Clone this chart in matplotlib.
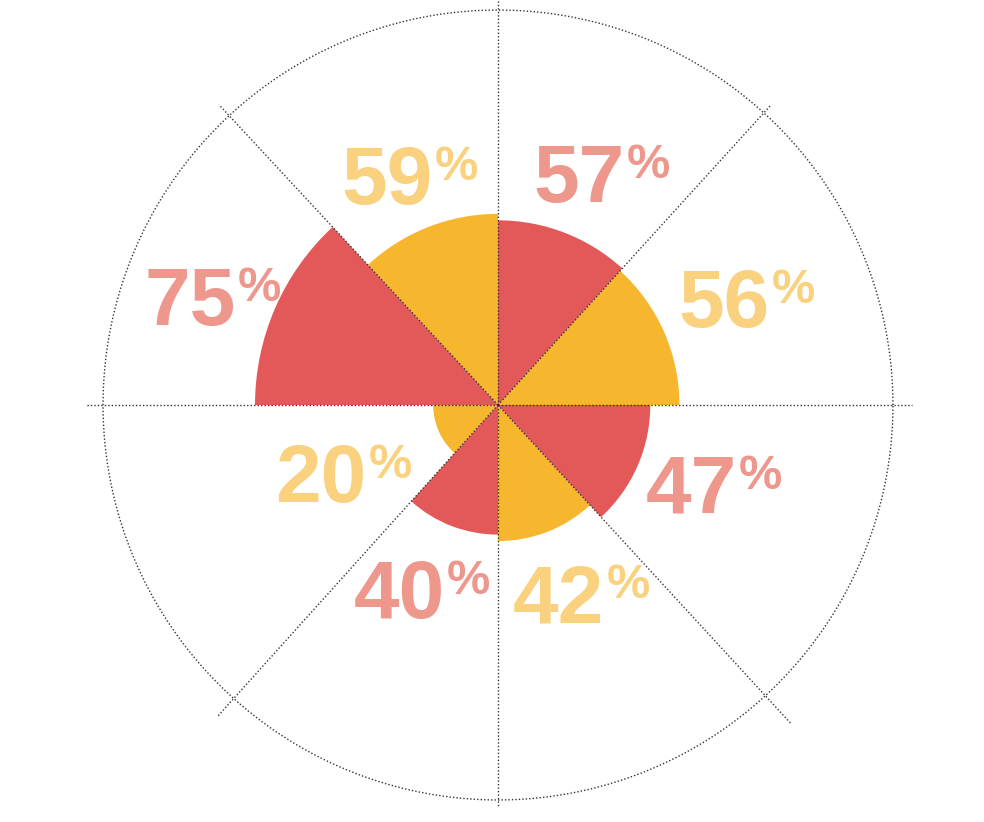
import numpy as np
import matplotlib
matplotlib.use('Agg')
import matplotlib.pyplot as plt

# valores por sector (en sentido antihorario desde el este)
values = [56, 57, 59, 75, 20, 40, 42, 47]
series = ['amarillo', 'rojo', 'amarillo', 'rojo', 'amarillo', 'rojo', 'amarillo', 'rojo']
value_labels = [str(v) for v in values]

# bordes de los sectores (grados) y largo de las lineas radiales
edges = [0, 47.7, 90, 132.9, 180, 228.0, 270, 312.6]
spoke_len = [127.8, 125.0, 135.0, 126.5, 127.2, 129.6, 124.1, 133.3]
# centro de cada etiqueta (angulo, radio)
label_pos = [(23.4, 83.6), (66.0, 78.5), (111.0, 76.1), (159.1, 94.3),
             (203.75, 52.1), (247.5, 61.5), (293.9, 63.5), (340.0, 70.9)]

bar_colors = {'rojo': '#E35859', 'amarillo': '#F6B62E'}
text_colors = {'rojo': '#EE978D', 'amarillo': '#FAD17F'}

plt.rcParams['font.family'] = ['Liberation Sans Narrow', 'Liberation Sans', 'DejaVu Sans']

W, H = 984, 822
fig = plt.figure(figsize=(W / 100, H / 100), dpi=100)
fig.patch.set_facecolor('white')

rmax = 130
px = 3.24  # pixeles por unidad
cx, cy = 498, H - 405
half = rmax * px
ax = fig.add_axes([(cx - half) / W, (cy - half) / H, 2 * half / W, 2 * half / H],
                  projection='polar')
ax.set_theta_zero_location('E')
ax.set_ylim(0, rmax)
ax.set_xticks([])
ax.set_yticks([])
ax.grid(False)
ax.spines['polar'].set_visible(False)
ax.patch.set_alpha(0)

ends = edges[1:] + [360]
widths = [e - s for s, e in zip(edges, ends)]
ax.bar(np.deg2rad(edges), values, width=np.deg2rad(widths), align='edge',
       color=[bar_colors[s] for s in series], linewidth=0, zorder=2)

# circulo exterior y lineas radiales punteadas
dots = (0, (1, 1.5))
t = np.linspace(0, 2 * np.pi, 600)
ax.plot(t, np.full_like(t, 121.9), color='#333333', lw=1.0, ls=dots, zorder=3)
for ang, L in zip(edges, spoke_len):
    a = np.deg2rad(ang)
    ax.plot([a, a], [0, L], color='#333333', lw=1.0, ls=dots, zorder=3, clip_on=False)

# etiquetas
num_size, pct_size = 59, 35
labels = []
for lab, s, (ang, r) in zip(value_labels, series, label_pos):
    num = ax.text(np.deg2rad(ang), r, lab, ha='center', va='baseline',
                  fontsize=num_size, fontweight='bold', color=text_colors[s], zorder=4)
    pct = ax.annotate('%', xy=(1, 1), xycoords=num, xytext=(1.5, 0),
                      textcoords='offset points', ha='left', va='top',
                      fontsize=pct_size, fontweight='bold', color=text_colors[s], zorder=4)
    labels.append((num, pct, np.deg2rad(ang), r))

# centrar el conjunto numero + % en su posicion
fig.canvas.draw()
rend = fig.canvas.get_renderer()
digit_h = 0.716 * num_size * fig.dpi / 72
for num, pct, a, r in labels:
    b1 = num.get_window_extent(rend)
    b2 = pct.get_window_extent(rend)
    mid = (min(b1.x0, b2.x0) + max(b1.x1, b2.x1)) / 2
    tx, ty = ax.transData.transform((a, r))
    cur = ax.transData.transform(num.get_position())
    new = (cur[0] + tx - mid, ty - digit_h / 2)
    num.set_position(ax.transData.inverted().transform(new))

fig.savefig('out.png', dpi=100)
